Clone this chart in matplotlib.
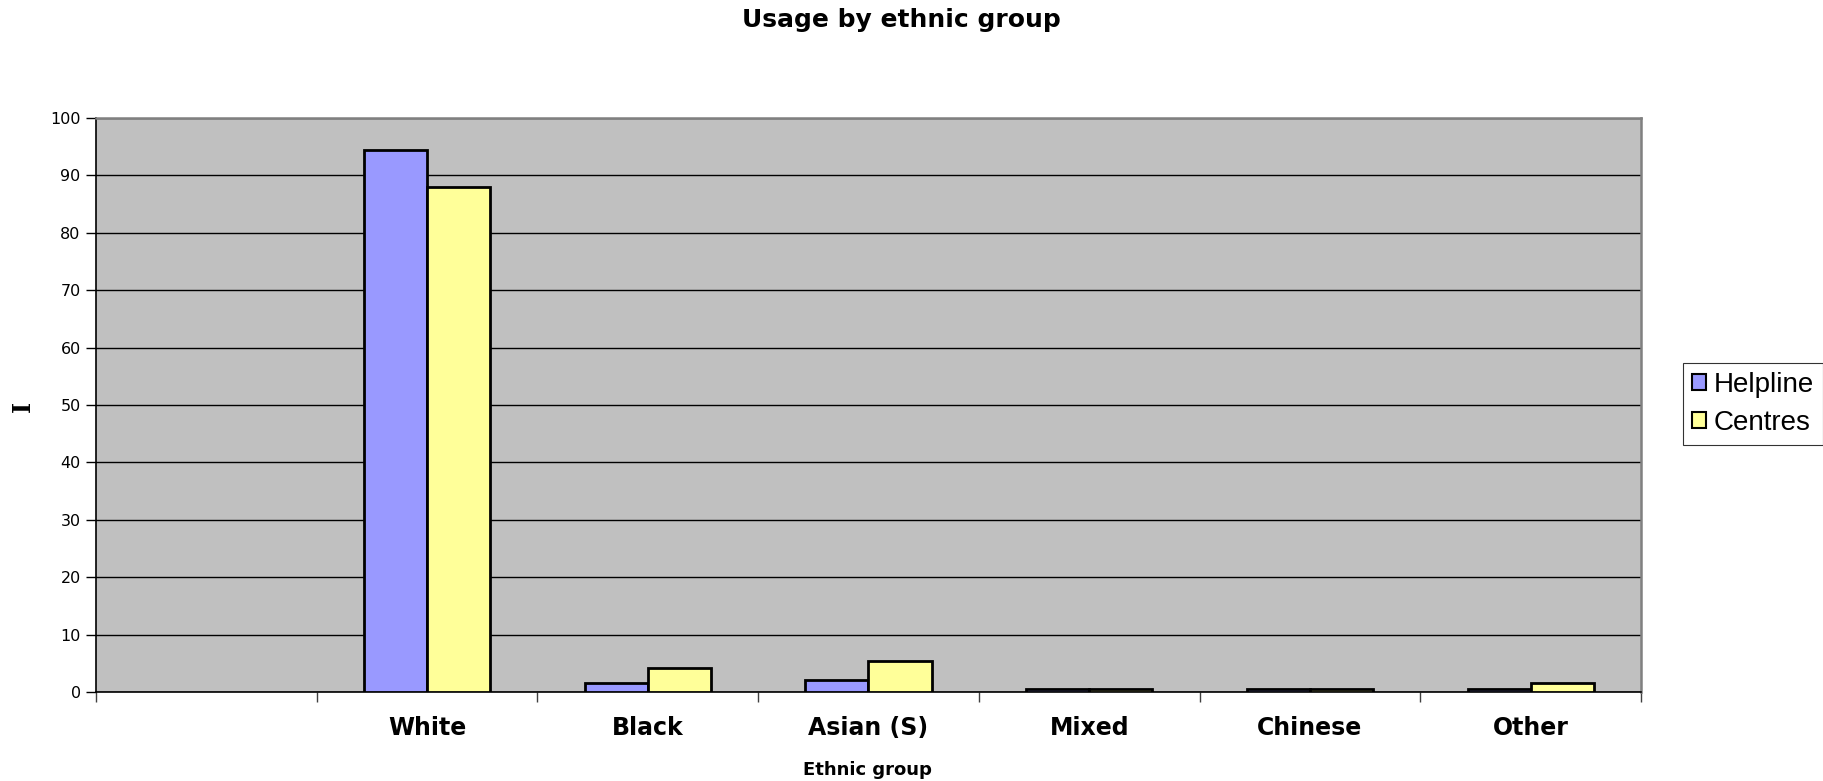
import matplotlib
matplotlib.use("Agg")
import matplotlib.pyplot as plt
import numpy as np
from matplotlib.patches import Patch

categories = ["", "White", "Black", "Asian (S)", "Mixed", "Chinese", "Other"]
helpline = [0, 94.4, 1.6, 2.1, 0.6, 0.6, 0.5]
centres = [0, 87.9, 4.25, 5.35, 0.6, 0.6, 1.6]
series_names = ["Helpline", "Centres"]
yticks = [0, 10, 20, 30, 40, 50, 60, 70, 80, 90, 100]

fig = plt.figure(figsize=(18.24, 7.81), dpi=100)
ax = fig.add_axes([0.0526, 0.114, 0.8471, 0.735])
ax.set_facecolor("#C0C0C0")

x = np.arange(len(categories))
w = 1 / 3.5
hp = [v if v > 0 else np.nan for v in helpline]
cp = [v if v > 0 else np.nan for v in centres]
ax.bar(x - w / 2, hp, width=w, color="#9999FF", edgecolor="black", linewidth=2, zorder=3)
ax.bar(x + w / 2, cp, width=w, color="#FFFF99", edgecolor="black", linewidth=2, zorder=3)

ax.set_xlim(-0.5, len(categories) - 0.5)
ax.set_ylim(0, 100)
ax.set_yticks(yticks)
ax.set_yticklabels([str(t) for t in yticks], fontsize=11.5, family="DejaVu Sans")
ax.yaxis.grid(True, color="black", linewidth=1, zorder=1)
ax.set_axisbelow(True)

ax.set_xticks(np.arange(len(categories) + 1) - 0.5)
ax.set_xticklabels([])
ax.set_xticks(x, minor=True)
ax.set_xticklabels(categories, minor=True, fontsize=17, fontweight="heavy", family="DejaVu Sans")
ax.tick_params(axis="x", which="major", direction="out", length=7, width=1, color="#404040")
ax.tick_params(axis="x", which="minor", length=0, pad=17)
ax.tick_params(axis="y", direction="out", length=7, width=1, pad=4)

for s in ["left", "bottom"]:
    ax.spines[s].set_color("black")
    ax.spines[s].set_linewidth(1.2)
for s in ["top", "right"]:
    ax.spines[s].set_color("#808080")
    ax.spines[s].set_linewidth(1.8)

fig.text(0.494, 0.974, "Usage by ethnic group", ha="center", va="center",
         fontsize=18, fontweight="heavy", family="DejaVu Sans")
fig.text(0.4755, 0.0135, "Ethnic group", ha="center", va="center",
         fontsize=13, fontweight="heavy", family="DejaVu Sans")
fig.text(0.0126, 0.479, "I", ha="center", va="center", rotation=90,
         fontsize=17, fontweight="heavy", family="DejaVu Serif")

handles = [Patch(facecolor="#9999FF", edgecolor="black", linewidth=1.5),
           Patch(facecolor="#FFFF99", edgecolor="black", linewidth=1.5)]
leg = fig.legend(handles, series_names, loc="center left",
                 bbox_to_anchor=(0.9227, 0.4826), frameon=True, fancybox=False,
                 prop={"family": "Liberation Sans", "size": 20},
                 handlelength=0.5, handleheight=0.5, handletextpad=0.3,
                 borderpad=0.32, labelspacing=0.42, borderaxespad=0)
leg.get_frame().set_edgecolor("black")
leg.get_frame().set_linewidth(0.8)

fig.savefig("out.png", dpi=100)
